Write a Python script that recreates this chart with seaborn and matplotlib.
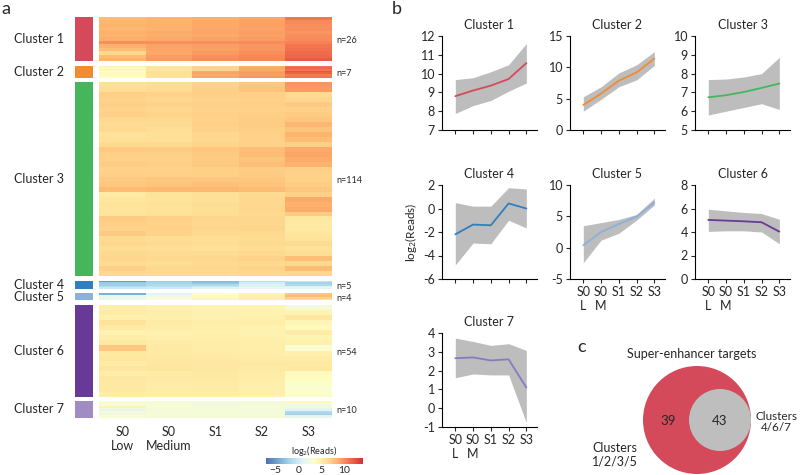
"""Cluster heatmap, per-cluster expression trends and super-enhancer overlap."""
import numpy as np
import pandas as pd
import matplotlib
matplotlib.use('Agg')
import matplotlib.pyplot as plt
from matplotlib.colors import ListedColormap
from matplotlib.patches import Circle
import seaborn as sns

# ---- data ----
stages = ['S0 Low', 'S0 Medium', 'S1', 'S2', 'S3']
heat_tick_labels = ['S0\nLow', 'S0\nMedium', 'S1', 'S2', 'S3']
line_tick_labels = ['S0\nL', 'S0\nM', 'S1', 'S2', 'S3']
cluster_names = ['Cluster 1', 'Cluster 2', 'Cluster 3', 'Cluster 4', 'Cluster 5', 'Cluster 6', 'Cluster 7']
cluster_n = [26, 7, 114, 5, 4, 54, 10]
cluster_colors = ['#d44a5b', '#f28b30', '#45b65b', '#2f7fc1', '#8cb0da', '#683a98', '#a08cc2']
line_colors = ['#d44a5b', '#f28b30', '#45b65b', '#2f7fc1', '#8cb0da', '#683a98', '#8a7abd']

# heatmap rows (log2 reads), approximated band by band
heat_c1 = [
    [8.0, 8.3, 8.6, 9.0, 11.0],
    [8.2, 8.4, 8.8, 9.1, 10.0],
    [8.4, 8.5, 8.8, 9.2, 9.8],
    [8.2, 8.4, 8.9, 9.1, 9.9],
    [8.5, 8.7, 9.0, 9.3, 9.7],
    [8.3, 8.6, 8.8, 9.2, 9.9],
    [8.6, 8.8, 9.1, 9.4, 10.0],
    [9.8, 9.8, 9.8, 10.0, 10.4],
    [8.5, 9.1, 9.3, 9.7, 11.0],
    [7.9, 9.0, 9.2, 9.7, 11.2],
    [6.5, 8.9, 9.5, 9.9, 11.4],
    [7.9, 9.3, 9.8, 10.2, 11.6],
    [8.3, 9.5, 10.0, 10.3, 12.0],
]
heat_c2 = [
    [4.5, 5.5, 6.5, 8.5, 11.0],
    [4.0, 5.8, 6.8, 8.7, 11.5],
    [4.2, 5.6, 6.7, 8.8, 11.0],
    [3.5, 5.9, 8.9, 9.2, 12.3],
    [4.0, 6.0, 9.0, 9.4, 11.8],
    [3.8, 5.8, 8.8, 9.3, 10.8],
    [3.6, 5.9, 9.0, 9.6, 11.0],
]
heat_c3 = [
    [6.0, 6.2, 6.8, 7.4, 9.6],
    [6.2, 6.3, 7.0, 7.6, 9.4],
    [7.0, 6.8, 7.0, 7.0, 6.3],
    [6.8, 6.6, 6.8, 6.9, 6.6],
    [7.0, 6.8, 6.9, 7.0, 7.3],
    [6.7, 6.6, 6.8, 6.8, 6.9],
    [6.9, 6.7, 6.9, 7.0, 7.2],
    [6.5, 6.5, 6.8, 7.1, 7.4],
    [6.3, 6.3, 6.9, 7.1, 8.2],
    [6.4, 6.2, 6.8, 7.0, 7.6],
    [5.9, 6.0, 6.6, 6.9, 8.3],
    [6.0, 6.0, 6.5, 6.8, 7.9],
    [6.4, 6.4, 6.7, 6.8, 7.0],
    [7.3, 7.2, 7.4, 7.8, 8.8],
    [7.0, 7.0, 7.3, 7.9, 9.0],
    [6.9, 6.9, 7.2, 7.6, 8.7],
    [7.1, 7.0, 7.3, 7.8, 8.4],
    [6.8, 6.8, 7.0, 7.1, 7.0],
    [7.0, 6.9, 7.0, 7.2, 6.8],
    [7.3, 7.4, 7.5, 7.5, 6.9],
    [7.5, 7.6, 7.7, 7.6, 7.1],
    [8.0, 8.1, 8.1, 7.9, 7.4],
    [5.3, 5.8, 6.0, 6.3, 7.0],
    [5.6, 5.8, 6.0, 6.5, 8.8],
    [5.8, 5.9, 6.2, 6.5, 8.5],
    [5.7, 5.8, 6.1, 6.6, 8.7],
    [5.8, 6.0, 6.2, 6.4, 7.2],
    [7.2, 6.9, 6.6, 6.6, 5.5],
    [7.0, 6.8, 6.5, 6.6, 5.3],
    [6.8, 6.9, 6.6, 6.7, 5.4],
    [7.3, 6.8, 6.4, 6.4, 5.6],
    [6.3, 6.2, 6.2, 6.3, 5.8],
    [6.6, 6.3, 6.2, 6.4, 6.3],
    [6.2, 6.1, 6.0, 6.2, 5.9],
    [6.4, 6.3, 6.3, 6.5, 6.2],
    [6.6, 6.4, 6.6, 6.8, 7.8],
    [6.3, 6.2, 6.4, 6.5, 6.5],
    [7.0, 6.5, 6.5, 6.7, 7.9],
    [6.5, 6.4, 6.4, 6.5, 6.6],
]
heat_c4 = [
    [-5.0, -2.5, -3.5, -1.0, -0.5],
    [-2.5, -1.8, -2.8, 0.2, -2.0],
    [-2.2, -1.5, -1.5, 0.8, -1.5],
    [-1.5, -0.8, -0.5, 0.8, 0.8],
    [-0.3, 0.0, 0.8, 1.5, 1.5],
]
heat_c5 = [
    [-4.0, 1.0, 3.0, 4.5, 7.5],
    [1.5, 2.5, 3.8, 4.8, 8.0],
    [1.8, 3.0, 4.0, 5.0, 6.8],
    [1.9, 3.5, 4.4, 4.9, 6.1],
]
heat_c6 = [
    [5.0, 4.8, 4.6, 4.5, 2.5],
    [5.2, 5.0, 4.8, 4.7, 4.5],
    [4.8, 4.9, 4.7, 4.8, 5.5],
    [5.8, 5.2, 5.0, 5.0, 4.3],
    [5.3, 5.1, 4.9, 4.7, 4.0],
    [4.6, 4.8, 4.8, 4.6, 5.2],
    [5.0, 4.9, 5.0, 4.8, 4.5],
    [5.4, 5.2, 5.1, 5.0, 4.8],
    [7.5, 5.3, 5.1, 5.0, 3.0],
    [5.4, 5.3, 5.2, 5.0, 4.8],
    [5.6, 5.4, 5.3, 5.2, 5.2],
    [5.2, 5.5, 5.5, 5.4, 5.4],
    [5.6, 5.6, 5.5, 5.3, 5.5],
    [5.0, 5.2, 5.4, 5.2, 3.8],
    [5.5, 5.3, 5.4, 5.1, 3.7],
    [5.3, 5.2, 5.2, 5.0, 3.3],
    [5.4, 5.1, 5.2, 4.9, 3.0],
    [5.1, 5.0, 5.0, 4.8, 3.4],
]
heat_c7 = [
    [3.0, 2.8, 2.5, 2.6, 4.0],
    [2.5, 2.7, 2.2, 2.4, 3.0],
    [2.8, 2.6, 2.3, 2.4, 2.0],
    [4.5, 2.9, 2.6, 2.7, 2.2],
    [2.0, 2.7, 2.6, 2.6, 1.5],
    [1.5, 2.6, 2.7, 2.7, 1.0],
    [2.6, 2.7, 2.7, 2.6, -1.5],
    [2.2, 2.8, 2.8, 2.6, -2.0],
    [3.0, 2.6, 2.6, 2.6, 1.0],
    [2.8, 2.7, 2.6, 2.7, 1.5],
]
heat_rows = [heat_c1, heat_c2, heat_c3, heat_c4, heat_c5, heat_c6, heat_c7]

# per-cluster mean and spread (panel b)
mean_c1 = [8.8, 9.1, 9.36, 9.71, 10.56]
low_c1 = [7.88, 8.3, 8.57, 9.06, 9.5]
high_c1 = [9.68, 9.78, 10.1, 10.47, 11.6]
mean_c2 = [4.0, 5.8, 7.87, 9.19, 11.4]
low_c2 = [3.0, 4.9, 6.9, 8.0, 10.3]
high_c2 = [5.3, 6.9, 9.1, 10.4, 12.5]
mean_c3 = [6.74, 6.85, 7.02, 7.24, 7.47]
low_c3 = [5.8, 6.0, 6.2, 6.4, 6.09]
high_c3 = [7.68, 7.71, 7.82, 8.0, 8.87]
mean_c4 = [-2.2, -1.37, -1.43, 0.43, 0.0]
low_c4 = [-4.8, -2.94, -3.0, -1.0, -1.66]
high_c4 = [0.5, 0.2, 0.2, 1.77, 1.66]
mean_c5 = [0.38, 2.5, 3.76, 4.95, 7.2]
low_c5 = [-2.4, 1.2, 2.3, 4.4, 6.8]
high_c5 = [3.5, 4.0, 4.5, 5.3, 7.9]
mean_c6 = [5.03, 4.97, 4.91, 4.83, 4.03]
low_c6 = [4.05, 4.1, 4.1, 4.0, 3.0]
high_c6 = [5.94, 5.8, 5.66, 5.57, 5.08]
mean_c7 = [2.66, 2.7, 2.54, 2.6, 1.1]
low_c7 = [1.62, 1.82, 1.77, 1.77, -0.77]
high_c7 = [3.73, 3.55, 3.34, 3.43, 3.07]
yticks_c1 = [7, 8, 9, 10, 11, 12]
yticks_c2 = [0, 5, 10, 15]
yticks_c3 = [5, 6, 7, 8, 9, 10]
yticks_c4 = [-6, -4, -2, 0, 2]
yticks_c5 = [-5, 0, 5, 10]
yticks_c6 = [0, 2, 4, 6, 8]
yticks_c7 = [-1, 0, 1, 2, 3, 4]
trend_means = [mean_c1, mean_c2, mean_c3, mean_c4, mean_c5, mean_c6, mean_c7]
trend_lows = [low_c1, low_c2, low_c3, low_c4, low_c5, low_c6, low_c7]
trend_highs = [high_c1, high_c2, high_c3, high_c4, high_c5, high_c6, high_c7]
trend_yticks = [yticks_c1, yticks_c2, yticks_c3, yticks_c4, yticks_c5, yticks_c6, yticks_c7]

# venn counts (panel c)
only_1235 = 39
shared_467 = 43

# ---- style ----
sns.set_style('white')
plt.rcParams['font.family'] = ['Lato', 'DejaVu Sans']
plt.rcParams['mathtext.fontset'] = 'custom'
plt.rcParams['mathtext.rm'] = 'Lato'
plt.rcParams['mathtext.default'] = 'regular'

W, H = 800, 475
fig = plt.figure(figsize=(W / 100, H / 100), dpi=100)


def px_axes(x0, y0, w, h):
    return fig.add_axes([x0 / W, 1 - (y0 + h) / H, w / W, h / H])


# slightly washed-out RdYlBu, like the printed figure
base = np.array(sns.color_palette('RdYlBu_r', 256)[18:238])
cmap = ListedColormap(base * 0.92 + 0.08)

# ---- panel a: heatmap ----
gs = fig.add_gridspec(7, 2, left=75 / W, right=332 / W, top=1 - 17 / H, bottom=1 - 418 / H,
                      height_ratios=cluster_n, width_ratios=[18, 233], hspace=0.08, wspace=0.048)
cax = px_axes(266, 458, 97, 6)
for i, name in enumerate(cluster_names):
    bar_ax = fig.add_subplot(gs[i, 0])
    bar_ax.set_facecolor(cluster_colors[i])
    bar_ax.set_xticks([])
    bar_ax.set_yticks([])
    for s in bar_ax.spines.values():
        s.set_visible(False)

    hm_ax = fig.add_subplot(gs[i, 1])
    df = pd.DataFrame(heat_rows[i], columns=stages)
    last = i == len(cluster_names) - 1
    sns.heatmap(df, ax=hm_ax, cmap=cmap, vmin=-7, vmax=14, yticklabels=False,
                xticklabels=heat_tick_labels if last else False,
                cbar=last, cbar_ax=cax if last else None,
                cbar_kws={'orientation': 'horizontal', 'ticks': [-5, 0, 5, 10]})
    hm_ax.set_xlabel('')
    hm_ax.set_ylabel('')
    if last:
        hm_ax.tick_params(axis='x', length=0, labelsize=9, pad=6, rotation=0)

    pos = bar_ax.get_position()
    yc = (pos.y0 + pos.y1) / 2
    fig.text(14 / W, yc, name, fontsize=9, ha='left', va='center')
    fig.text(336 / W, yc - 1.5 / H, f'n={cluster_n[i]}', fontsize=6.5, ha='left', va='center')

cax.set_title('log$_2$(Reads)', fontsize=6.5, pad=2)
cax.tick_params(labelsize=7.5, length=0, pad=1.5)

# ---- panel b: trends ----
boxes = [(442, 36), (570, 36), (695, 36), (442, 185), (570, 185), (695, 185), (442, 333)]
x = np.arange(len(stages))
for i, name in enumerate(cluster_names):
    ax = px_axes(boxes[i][0], boxes[i][1], 95, 94)
    ax.fill_between(x, trend_lows[i], trend_highs[i], color='#bdbdbd', lw=0)
    sns.lineplot(x=x, y=trend_means[i], ax=ax, color=line_colors[i], lw=1.3)
    yt = trend_yticks[i]
    ax.set_ylim(yt[0], yt[-1])
    ax.set_yticks(yt, labels=[str(t) for t in yt])
    ax.set_xlim(-0.75, 4.6)
    if i >= 4:
        ax.set_xticks(x, labels=line_tick_labels)
    else:
        ax.set_xticks(x, labels=[])
    sns.despine(ax=ax)
    for s in ['left', 'bottom']:
        ax.spines[s].set_linewidth(0.8)
        ax.spines[s].set_color('black')
    ax.tick_params(direction='out', length=3, width=0.8, labelsize=9, pad=2,
                   left=True, bottom=True)
    ax.set_title(name, fontsize=9, pad=5)
    if i == 3:
        ax.set_ylabel('log$_2$(Reads)', fontsize=8.5, labelpad=3)

# ---- panel c: venn ----
vax = px_axes(560, 340, 240, 135)
vax.set_xlim(560, 800)
vax.set_ylim(475, 340)
vax.set_aspect('equal')
vax.axis('off')
vax.add_patch(Circle((697, 420), 54, color='#d44a5b', lw=0, clip_on=False))
vax.add_patch(Circle((720, 420), 31, color='#bebebe', lw=0, clip_on=False))
vax.text(668, 421, str(only_1235), fontsize=9.5, ha='center', va='center')
vax.text(720, 421, str(shared_467), fontsize=9.5, ha='center', va='center')
fig.text(692 / W, 1 - 354 / H, 'Super-enhancer targets', fontsize=9, ha='center', va='center')
fig.text(776 / W, 1 - 422 / H, 'Clusters\n4/6/7', fontsize=8.5, ha='center', va='center', linespacing=1.1)
fig.text(615 / W, 1 - 455 / H, 'Clusters\n1/2/3/5', fontsize=9, ha='center', va='center', linespacing=1.1)

# panel letters
fig.text(1 / W, 1 - 1 / H, 'a', fontsize=13, ha='left', va='top')
fig.text(392 / W, 1 - 1 / H, 'b', fontsize=13, ha='left', va='top')
fig.text(577 / W, 1 - 339 / H, 'c', fontsize=13, ha='left', va='top')

fig.savefig('out.png', dpi=100)
